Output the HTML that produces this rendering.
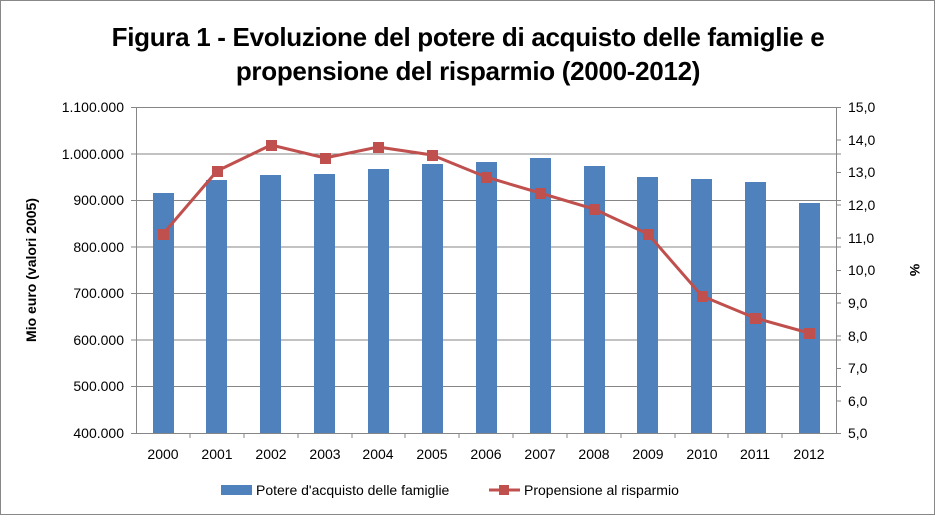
<!DOCTYPE html>
<html><head><meta charset="utf-8"><style>
body{margin:0;background:#fff}
svg{display:block}
text{font-family:"Liberation Sans",sans-serif;fill:#000}
</style></head><body>
<svg width="936" height="516" xmlns="http://www.w3.org/2000/svg">
<rect x="0.5" y="0.5" width="934" height="514" fill="#fff" stroke="#888"/>
<text x="468" y="46" text-anchor="middle" font-size="26" font-weight="bold" letter-spacing="-0.3">Figura 1 - Evoluzione del potere di acquisto delle famiglie  e</text>
<text x="468" y="80" text-anchor="middle" font-size="26" font-weight="bold" letter-spacing="-0.3">propensione del risparmio (2000-2012)</text>
<g stroke="#868686" stroke-width="1">
<line x1="131" y1="107.5" x2="841" y2="107.5"/>
<line x1="131" y1="154" x2="841" y2="154"/>
<line x1="131" y1="200.5" x2="841" y2="200.5"/>
<line x1="131" y1="247" x2="841" y2="247"/>
<line x1="131" y1="293.5" x2="841" y2="293.5"/>
<line x1="131" y1="340" x2="841" y2="340"/>
<line x1="131" y1="386.5" x2="841" y2="386.5"/>
<line x1="131" y1="433.5" x2="841" y2="433.5"/>
<line x1="136.5" y1="107" x2="136.5" y2="433"/>
<line x1="836.5" y1="107" x2="836.5" y2="433"/>
<line x1="836" y1="140" x2="841" y2="140"/><line x1="836" y1="172.5" x2="841" y2="172.5"/>
<line x1="836" y1="205" x2="841" y2="205"/><line x1="836" y1="238" x2="841" y2="238"/>
<line x1="836" y1="270.5" x2="841" y2="270.5"/><line x1="836" y1="303" x2="841" y2="303"/>
<line x1="836" y1="336" x2="841" y2="336"/><line x1="836" y1="368.5" x2="841" y2="368.5"/>
<line x1="836" y1="401" x2="841" y2="401"/>
</g>
<g stroke="#868686">
<line x1="190" y1="433" x2="190" y2="438"/><line x1="244" y1="433" x2="244" y2="438"/><line x1="298" y1="433" x2="298" y2="438"/><line x1="352" y1="433" x2="352" y2="438"/><line x1="405" y1="433" x2="405" y2="438"/><line x1="459" y1="433" x2="459" y2="438"/><line x1="513" y1="433" x2="513" y2="438"/><line x1="567" y1="433" x2="567" y2="438"/><line x1="621" y1="433" x2="621" y2="438"/><line x1="675" y1="433" x2="675" y2="438"/><line x1="728" y1="433" x2="728" y2="438"/><line x1="782" y1="433" x2="782" y2="438"/>
</g>
<g fill="#4f81bd">
<rect x="153" y="193" width="21" height="240"/>
<rect x="206" y="180" width="21" height="253"/>
<rect x="260" y="175" width="21" height="258"/>
<rect x="314" y="174" width="21" height="259"/>
<rect x="368" y="169" width="21" height="264"/>
<rect x="422" y="164" width="21" height="269"/>
<rect x="476" y="162" width="21" height="271"/>
<rect x="530" y="158" width="21" height="275"/>
<rect x="584" y="166" width="21" height="267"/>
<rect x="637" y="177" width="21" height="256"/>
<rect x="691" y="179" width="21" height="254"/>
<rect x="745" y="182" width="21" height="251"/>
<rect x="799" y="203" width="21" height="230"/>
</g>
<polyline fill="none" stroke="#c0504d" stroke-width="3" points="163,234 217,171 271,145 325,158 378,147 432,155 486,177 540,193 594,209 648,234 702,296 755,318 809,333"/>
<g fill="#c0504d">
<rect x="158" y="229" width="11" height="11"/><rect x="212" y="166" width="11" height="11"/><rect x="266" y="140" width="11" height="11"/><rect x="320" y="153" width="11" height="11"/><rect x="373" y="142" width="11" height="11"/><rect x="427" y="150" width="11" height="11"/><rect x="481" y="172" width="11" height="11"/><rect x="535" y="188" width="11" height="11"/><rect x="589" y="204" width="11" height="11"/><rect x="643" y="229" width="11" height="11"/><rect x="697" y="291" width="11" height="11"/><rect x="750" y="313" width="11" height="11"/><rect x="804" y="328" width="11" height="11"/>
</g>
<g font-size="14" text-anchor="end">
<text x="124" y="112">1.100.000</text><text x="124" y="159">1.000.000</text><text x="124" y="205">900.000</text><text x="124" y="252">800.000</text><text x="124" y="298">700.000</text><text x="124" y="345">600.000</text><text x="124" y="391">500.000</text><text x="124" y="438">400.000</text>
</g>
<g font-size="14">
<text x="848" y="112">15,0</text><text x="848" y="145">14,0</text><text x="848" y="177">13,0</text><text x="848" y="210">12,0</text><text x="848" y="243">11,0</text><text x="848" y="275">10,0</text><text x="848" y="308">9,0</text><text x="848" y="341">8,0</text><text x="848" y="373">7,0</text><text x="848" y="406">6,0</text><text x="848" y="438">5,0</text>
</g>
<g font-size="14" text-anchor="middle">
<text x="163" y="459">2000</text><text x="217" y="459">2001</text><text x="271" y="459">2002</text><text x="325" y="459">2003</text><text x="378" y="459">2004</text><text x="432" y="459">2005</text><text x="486" y="459">2006</text><text x="540" y="459">2007</text><text x="594" y="459">2008</text><text x="648" y="459">2009</text><text x="702" y="459">2010</text><text x="755" y="459">2011</text><text x="809" y="459">2012</text>
</g>
<text transform="translate(36,270) rotate(-90)" font-size="14" font-weight="bold" text-anchor="middle">Mio euro (valori 2005)</text>
<text transform="translate(910,270) rotate(90)" font-size="14" font-weight="bold" text-anchor="middle">%</text>
<rect x="221" y="485" width="31" height="10" fill="#4f81bd"/>
<text x="256" y="495" font-size="14">Potere d'acquisto delle famiglie</text>
<line x1="489" y1="490" x2="520" y2="490" stroke="#c0504d" stroke-width="3"/>
<rect x="499" y="485" width="10" height="10" fill="#c0504d"/>
<text x="524" y="495" font-size="14">Propensione al risparmio</text>
</svg>
</body></html>
